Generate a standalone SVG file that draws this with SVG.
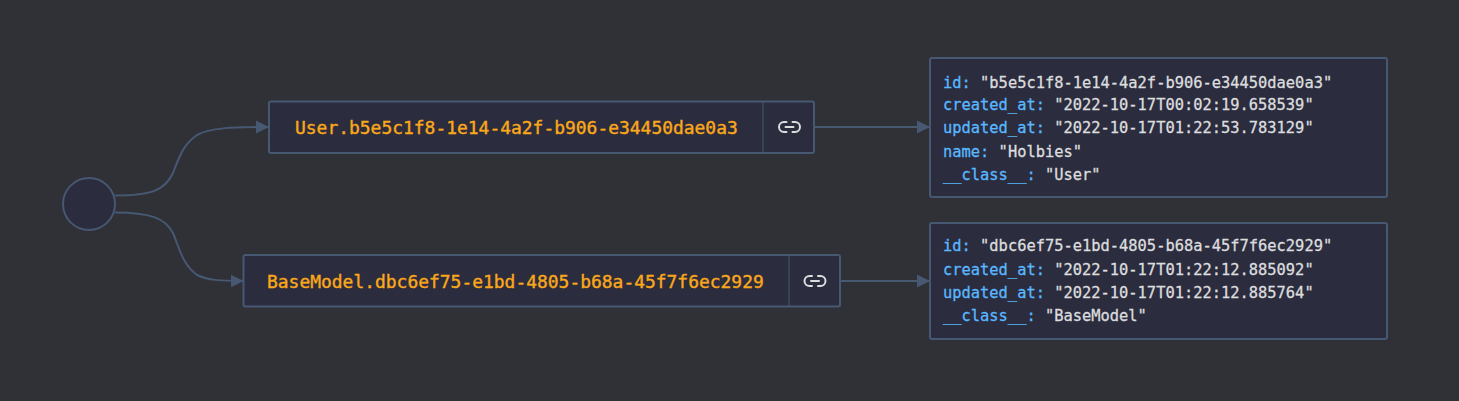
<svg xmlns="http://www.w3.org/2000/svg" width="1459" height="401" viewBox="0 0 1459 401">
<style>
.n{fill:#2b2c3e;stroke:#475872;stroke-width:2}
.d{stroke:#475872;stroke-width:1.5;opacity:.7}
.c{fill:none;stroke:#475872;stroke-width:2}
text{font-family:"DejaVu Sans Mono","Liberation Mono",monospace}
.t{font-size:17.95px;fill:#faa81a;stroke:#faa81a;stroke-width:.4}
.l{font-size:15.4px;fill:#dcddde;stroke:#dcddde;stroke-width:.3}
.k{fill:#59b8ff;stroke:#59b8ff}
.i{fill:none;stroke:#dcddde;stroke-width:2;stroke-linecap:round;stroke-linejoin:round}
</style>
<defs>
<marker id="a" markerUnits="userSpaceOnUse" markerWidth="14" markerHeight="14" refX="13" refY="7" orient="auto"><path d="M0 0.500L13 7L0 13.500Z" fill="#475872"/></marker>
</defs>
<rect width="1459" height="401" fill="#2f3136"/>
<g id="connectors">
<path class="c" marker-end="url(#a)" d="M115 195.500C152 195.500 165 190 173 173C180 155 183 145 197 135C210 128 230 127 269 127"/>
<path class="c" marker-end="url(#a)" d="M115 212.500C150 212.500 165 218 173 233C180 250 183 265 197 275C207 280 220 281 243.500 281"/>
<path class="c" marker-end="url(#a)" d="M814 127H930"/>
<path class="c" marker-end="url(#a)" d="M840 281H930"/>
</g>
<g id="root"><circle class="n" cx="89" cy="204" r="26"/></g>
<g id="node-user">
<rect class="n" x="269" y="101.500" width="545" height="51.500" rx="2"/>
<line class="d" x1="763" y1="102" x2="763" y2="152"/>
<text class="t" x="295" y="133.500">User.b5e5c1f8-1e14-4a2f-b906-e34450dae0a3</text>
<g class="i" transform="translate(789.500 127)"><path d="M-3 -5H-5.500A5 5 0 0 0 -5.500 5H-3M3 -5H5.500A5 5 0 0 1 5.500 5H3M-4 0H4"/></g>
</g>
<g id="node-basemodel">
<rect class="n" x="243.500" y="255" width="596.500" height="51.500" rx="2"/>
<line class="d" x1="789" y1="256" x2="789" y2="306"/>
<text class="t" x="267" y="287.500">BaseModel.dbc6ef75-e1bd-4805-b68a-45f7f6ec2929</text>
<g class="i" transform="translate(815 281)"><path d="M-3 -5H-5.500A5 5 0 0 0 -5.500 5H-3M3 -5H5.500A5 5 0 0 1 5.500 5H3M-4 0H4"/></g>
</g>
<g id="detail-user">
<rect class="n" x="930" y="58" width="457" height="139" rx="2"/>
<text class="l" x="943" y="87.500"><tspan class="k">id: </tspan>"b5e5c1f8-1e14-4a2f-b906-e34450dae0a3"</text>
<text class="l" x="943" y="110"><tspan class="k">created_at: </tspan>"2022-10-17T00:02:19.658539"</text>
<text class="l" x="943" y="133"><tspan class="k">updated_at: </tspan>"2022-10-17T01:22:53.783129"</text>
<text class="l" x="943" y="156.500"><tspan class="k">name: </tspan>"Holbies"</text>
<text class="l" x="943" y="180"><tspan class="k">__class__: </tspan>"User"</text>
</g>
<g id="detail-basemodel">
<rect class="n" x="930" y="223" width="457" height="116" rx="2"/>
<text class="l" x="943" y="251"><tspan class="k">id: </tspan>"dbc6ef75-e1bd-4805-b68a-45f7f6ec2929"</text>
<text class="l" x="943" y="274.500"><tspan class="k">created_at: </tspan>"2022-10-17T01:22:12.885092"</text>
<text class="l" x="943" y="298"><tspan class="k">updated_at: </tspan>"2022-10-17T01:22:12.885764"</text>
<text class="l" x="943" y="321"><tspan class="k">__class__: </tspan>"BaseModel"</text>
</g>
</svg>
